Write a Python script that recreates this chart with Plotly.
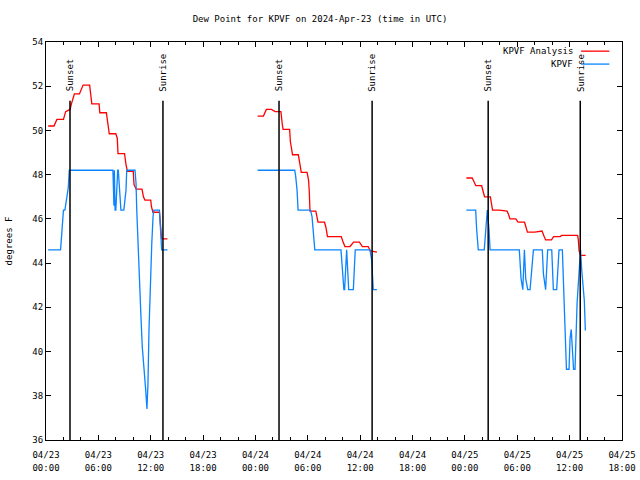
import plotly.graph_objects as go

FONT = "DejaVu Sans Mono"

title_text = "Dew Point for KPVF on 2024-Apr-23 (time in UTC)"
series_names = ["KPVF Analysis", "KPVF"]
series_colors = ["#ff0000", "#0a84ff"]

# ---- KPVF Analysis (red) ----
ana_d1_t = ["00:15", "00:55", "01:15", "02:00", "02:15", "02:45", "02:55", "03:15", "03:50", "04:05",
            "04:15", "05:00", "05:05", "05:15", "06:05", "06:10", "06:55", "07:05", "07:15", "08:00",
            "08:10", "08:15", "09:00", "09:10", "09:20", "10:00", "10:05", "10:20", "11:00", "11:10",
            "11:20", "12:00", "12:05", "12:15", "13:00", "13:15", "13:55"]
ana_d1_v = [50.2, 50.2, 50.5, 50.5, 50.85, 50.95, 51.2, 51.65, 51.65, 51.9,
            52.05, 52.05, 51.65, 51.2, 51.2, 50.8, 50.8, 50.4, 49.85, 49.85,
            49.65, 48.95, 48.95, 48.45, 48.15, 48.15, 47.55, 47.35, 47.35, 47.0,
            46.85, 46.85, 46.55, 46.3, 46.3, 45.1, 45.1]
ana_d2_t = ["00:15", "00:55", "01:15", "01:50", "02:15", "02:55", "03:05", "03:10", "03:55", "04:00",
            "04:15", "04:55", "05:05", "05:15", "05:55", "06:05", "06:10", "06:15", "06:55", "07:00",
            "07:10", "07:55", "08:05", "08:15", "09:50", "10:00", "10:15", "10:50", "11:15", "11:55",
            "12:15", "12:55", "13:10", "13:55"]
ana_d2_v = [50.65, 50.65, 50.95, 50.95, 50.85, 50.85, 50.25, 50.05, 50.05, 49.5,
            48.9, 48.9, 48.5, 48.1, 48.1, 47.75, 47.25, 46.35, 46.35, 46.1,
            45.85, 45.85, 45.6, 45.2, 45.2, 45.0, 44.75, 44.75, 44.95, 44.95,
            44.75, 44.75, 44.55, 44.5]
ana_d3_t = ["00:10", "00:50", "00:58", "01:15", "01:55", "02:05", "02:15", "02:55", "03:05", "03:10",
            "03:55", "04:50", "05:00", "05:10", "05:50", "06:05", "06:50", "07:00", "07:10", "08:00",
            "08:50", "09:05", "09:15", "09:55", "10:10", "10:55", "11:05", "12:55", "13:00", "13:05",
            "13:15", "13:50"]
ana_d3_v = [47.85, 47.85, 47.75, 47.5, 47.5, 47.25, 47.0, 47.0, 46.65, 46.4,
            46.4, 46.35, 46.2, 46.0, 46.0, 45.85, 45.85, 45.6, 45.4, 45.4,
            45.45, 45.2, 45.05, 45.05, 45.2, 45.2, 45.25, 45.25, 45.05, 44.55,
            44.35, 44.35]

# ---- KPVF observations (blue) ----
obs_d1_t = ["00:15", "01:40", "01:48", "02:00", "02:10", "02:25", "02:33", "02:40", "07:40", "07:47",
            "07:50", "07:55", "08:00", "08:13", "08:17", "08:35", "08:55", "09:10", "09:15", "10:12",
            "10:19", "10:24", "10:30", "10:39", "10:46", "10:53", "11:02", "11:12", "11:19", "11:25",
            "11:34", "11:41", "11:48", "11:57", "12:07", "12:16", "12:21", "13:00", "13:09", "13:15",
            "13:55"]
obs_d1_v = [44.6, 44.6, 45.3, 46.4, 46.4, 47.0, 47.4, 48.2, 48.2, 46.6,
            48.2, 46.4, 46.4, 48.2, 48.2, 46.4, 46.4, 47.3, 48.2, 48.2,
            47.6, 46.4, 45.2, 43.95, 42.75, 41.55, 40.2, 39.45, 38.85, 38.3,
            37.4, 38.55, 40.95, 43.4, 44.85, 46.1, 46.4, 46.4, 45.15, 44.6,
            44.6]
obs_d2_t = ["00:15", "04:30", "04:37", "04:46", "04:53", "06:18", "06:29", "06:36", "06:48", "09:48",
            "09:57", "10:08", "10:13", "10:22", "10:27", "10:41", "11:13", "11:26", "13:07", "13:19",
            "13:23", "13:30", "13:55"]
obs_d2_v = [48.2, 48.2, 47.9, 47.3, 46.4, 46.4, 46.1, 45.6, 44.6, 44.6,
            43.65, 42.8, 42.8, 44.6, 44.6, 42.8, 42.8, 44.6, 44.6, 44.15,
            43.3, 42.8, 42.8]
obs_d3_t = ["00:10", "01:14", "01:21", "01:28", "01:32", "02:13", "02:23", "02:30", "02:34", "02:46",
            "02:53", "06:14", "06:19", "06:26", "06:38", "06:42", "06:49", "06:58", "07:12", "07:28",
            "07:35", "07:51", "08:52", "09:00", "09:15", "09:29", "09:57", "10:08", "10:31", "10:47",
            "11:10", "11:24", "11:31", "11:38", "11:56", "12:03", "12:11", "12:18", "12:27", "12:37",
            "12:44", "12:51", "13:00", "13:09", "13:15", "13:23", "13:32", "13:41", "13:48"]
obs_d3_v = [46.4, 46.4, 45.5, 44.9, 44.6, 44.6, 45.5, 46.0, 46.4, 45.5,
            44.6, 44.6, 44.15, 43.3, 42.8, 43.3, 44.6, 43.3, 42.8, 42.8,
            43.3, 44.6, 44.6, 43.5, 42.8, 44.6, 44.6, 42.8, 42.8, 44.6,
            44.6, 41.9, 40.05, 39.2, 39.2, 40.6, 41.0, 40.0, 39.2, 39.2,
            41.0, 42.15, 43.1, 44.25, 44.6, 43.7, 43.05, 42.3, 40.95]

days = ["2024-04-23", "2024-04-24", "2024-04-25"]

# ---- Sunset / Sunrise markers ----
sun_time = ["2024-04-23 02:45", "2024-04-23 13:24", "2024-04-24 02:42",
            "2024-04-24 13:22", "2024-04-25 02:40", "2024-04-25 13:13"]
sun_label = ["Sunset", "Sunrise", "Sunset", "Sunrise", "Sunset", "Sunrise"]

x_range = ["2024-04-23 00:00", "2024-04-25 18:00"]
y_range = [36, 54]
y_tick_step = 2


def join_days(day_times, day_values):
    xs, ys = [], []
    for d, ts, vs in zip(days, day_times, day_values):
        if xs:
            xs.append(None)
            ys.append(None)
        xs += [f"{d} {t}" for t in ts]
        ys += list(vs)
    return xs, ys


ana_x, ana_y = join_days([ana_d1_t, ana_d2_t, ana_d3_t], [ana_d1_v, ana_d2_v, ana_d3_v])
obs_x, obs_y = join_days([obs_d1_t, obs_d2_t, obs_d3_t], [obs_d1_v, obs_d2_v, obs_d3_v])

fig = go.Figure()
fig.add_trace(go.Scatter(x=ana_x, y=ana_y, mode="lines", name=series_names[0],
                         line=dict(color=series_colors[0], width=1.3), connectgaps=False))
fig.add_trace(go.Scatter(x=obs_x, y=obs_y, mode="lines", name=series_names[1],
                         line=dict(color=series_colors[1], width=1.3), connectgaps=False))
# empty helper trace so the second (time-of-day label) axis is drawn
fig.add_trace(go.Scatter(x=[], y=[], xaxis="x2", mode="lines", showlegend=False,
                         hoverinfo="skip"))

shapes = []
annotations = []
for t, lab in zip(sun_time, sun_label):
    shapes.append(dict(type="line", xref="x", yref="paper", x0=t, x1=t, y0=0, y1=0.8525,
                       line=dict(color="black", width=1.5)))
    annotations.append(dict(x=t, xref="x", y=0.87, yref="paper", text=lab, textangle=-90,
                            showarrow=False, xanchor="center", yanchor="bottom",
                            font=dict(family=FONT, size=9, color="black")))

# manual legend (gnuplot style: text right-aligned, sample to the right)
leg_y = [0.977, 0.9445]
for name, col, ly in zip(series_names, series_colors, leg_y):
    annotations.append(dict(x=0.918, xref="paper", y=ly, yref="paper", text=name,
                            showarrow=False, xanchor="right", yanchor="middle",
                            font=dict(family=FONT, size=9, color="black")))
    shapes.append(dict(type="line", xref="paper", yref="paper", x0=0.929, x1=0.978,
                       y0=ly, y1=ly, line=dict(color=col, width=1.3)))

fig.update_layout(
    width=640, height=480,
    margin=dict(l=46, r=18, t=42, b=40, autoexpand=False),
    paper_bgcolor="white", plot_bgcolor="white",
    showlegend=False,
    font=dict(family=FONT, size=9, color="black"),
    title=dict(text=title_text, x=0.5, xref="container", xanchor="center",
               y=1 - 19 / 480, yref="container", yanchor="middle",
               font=dict(family=FONT, size=9, color="black")),
    shapes=shapes,
    annotations=annotations,
    xaxis2=dict(type="date", overlaying="x", matches="x", side="bottom",
                tick0="2024-04-23 00:00", dtick=6 * 3600 * 1000, tickformat="%H:%M",
                ticks="", showline=False, showgrid=False, zeroline=False,
                ticklabelstandoff=21, automargin=False,
                tickfont=dict(family=FONT, size=9, color="black")),
)

fig.layout.xaxis.update(
    type="date", range=x_range,
    tick0="2024-04-23 00:00", dtick=6 * 3600 * 1000,
    tickformat="%m/%d",
    ticks="inside", ticklen=5, tickwidth=1, tickcolor="black",
    minor=dict(dtick=2 * 3600 * 1000, ticks="inside", ticklen=3, tickcolor="black", showgrid=False),
    showline=True, linecolor="black", linewidth=1, mirror="ticks",
    showgrid=False, zeroline=False, automargin=False,
    ticklabelstandoff=6,
    tickfont=dict(family=FONT, size=9, color="black"),
)
fig.update_yaxes(
    range=y_range, dtick=y_tick_step, tick0=36,
    ticks="inside", ticklen=5, tickwidth=1, tickcolor="black",
    showline=True, linecolor="black", linewidth=1, mirror="ticks",
    showgrid=False, zeroline=False, automargin=False,
    tickfont=dict(family=FONT, size=9, color="black"),
    title=dict(text="degrees F", standoff=18, font=dict(family=FONT, size=9, color="black")),
)

fig.write_html("out.html", config={"displayModeBar": False},
               post_script="document.body.style.margin='0';")
